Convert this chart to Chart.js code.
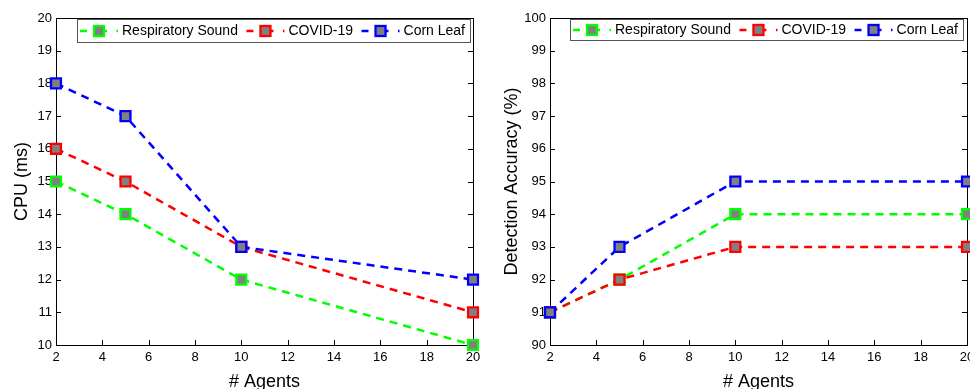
<!DOCTYPE html>
<html>
<head>
<meta charset="utf-8">
<script src="https://cdn.jsdelivr.net/npm/chart.js@4/dist/chart.umd.min.js"></script>
<style>
  html, body { margin: 0; padding: 0; background: #fff; overflow: hidden; width: 970px; height: 389px; position: relative; }
  #cpuChart { position: absolute; left: 0; top: 0; }
  #accChart { position: absolute; left: 490px; top: 0; }
</style>
</head>
<body>
<canvas id="cpuChart" width="490" height="400"></canvas>
<canvas id="accChart" width="500" height="400"></canvas>
<script>
// values
const agents = [2, 5, 10, 20];
const seriesNames = ['Respiratory Sound', 'COVID-19', 'Corn Leaf'];
const cpuRespiratory = [15, 14, 12, 10];
const cpuCovid = [16, 15, 13, 11];
const cpuCorn = [18, 17, 13, 12];
const accRespiratory = [91, 92, 94, 94];
const accCovid = [91, 92, 93, 93];
const accCorn = [91, 93, 95, 95];
const xTicks = [2, 4, 6, 8, 10, 12, 14, 16, 18, 20];
const cpuTicks = [10, 11, 12, 13, 14, 15, 16, 17, 18, 19, 20];
const accTicks = [90, 91, 92, 93, 94, 95, 96, 97, 98, 99, 100];

const colors = ['#00ff00', '#ff0000', '#0000ff'];
const FONT = '"Liberation Sans", Arial, sans-serif';
const DASH = [8, 6];

function makeDataset(i, values) {
  return {
    label: seriesNames[i],
    data: agents.map((a, k) => ({ x: a, y: values[k] })),
    borderColor: colors[i],
    borderWidth: 2.5,
    borderDash: DASH,
    pointStyle: 'rect',
    pointRadius: 7,
    pointHoverRadius: 7,
    pointBorderWidth: 2.3,
    pointBackgroundColor: '#808080',
    pointBorderColor: colors[i],
    fill: false,
    clip: false,
    order: 2 - i
  };
}

// box around the plot, ticks pointing inward
const boxTicks = {
  id: 'boxTicks',
  beforeDatasetsDraw(chart) {
    const { ctx, chartArea: a, scales } = chart;
    const len = 5;
    ctx.save();
    ctx.strokeStyle = '#000';
    ctx.lineWidth = 1;
    ctx.beginPath();
    scales.x.ticks.forEach(t => {
      const px = Math.round(scales.x.getPixelForValue(t.value)) + 0.5;
      ctx.moveTo(px, a.bottom); ctx.lineTo(px, a.bottom - len);
      ctx.moveTo(px, a.top); ctx.lineTo(px, a.top + len);
    });
    scales.y.ticks.forEach(t => {
      const py = Math.round(scales.y.getPixelForValue(t.value)) + 0.5;
      ctx.moveTo(a.left, py); ctx.lineTo(a.left + len, py);
      ctx.moveTo(a.right, py); ctx.lineTo(a.right - len, py);
    });
    ctx.stroke();
    ctx.strokeRect(Math.round(a.left) + 0.5, Math.round(a.top) + 0.5,
      Math.round(a.right - a.left), Math.round(a.bottom - a.top));
    ctx.restore();
  }
};

// legend box in top right of the plot area
const boxLegend = {
  id: 'boxLegend',
  afterDraw(chart, args, opts) {
    const { ctx, chartArea: a } = chart;
    ctx.save();
    ctx.font = '14px ' + FONT;
    const widths = chart.data.datasets.map(d => ctx.measureText(d.label).width);
    const lineW = 38, textGap = 4, sep = 8.5;
    let total = 3;
    widths.forEach((w, i) => { total += lineW + textGap + w + (i < widths.length - 1 ? sep : 5); });
    const right = a.right - opts.rightGap;
    const left = right - total;
    const top = a.top + 1, h = opts.height;
    ctx.fillStyle = '#fff';
    ctx.fillRect(left, top, total, h);
    ctx.strokeStyle = '#555';
    ctx.lineWidth = 1;
    ctx.strokeRect(Math.round(left) + 0.5, Math.round(top) + 0.5, Math.round(total), h);
    const cy = top + h / 2 + 0.5;
    let x = left + 3;
    chart.data.datasets.forEach((d, i) => {
      ctx.strokeStyle = d.borderColor;
      ctx.lineWidth = 2.5;
      ctx.setLineDash([7, 12, 8, 9.5, 1.5, 100]);
      ctx.beginPath();
      ctx.moveTo(x, cy); ctx.lineTo(x + lineW, cy);
      ctx.stroke();
      ctx.setLineDash([]);
      const s = 10;
      ctx.fillStyle = '#808080';
      ctx.fillRect(x + 19 - s / 2, cy - s / 2, s, s);
      ctx.lineWidth = 2.3;
      ctx.strokeRect(x + 19 - s / 2, cy - s / 2, s, s);
      ctx.fillStyle = '#000';
      ctx.textBaseline = 'middle';
      ctx.textAlign = 'left';
      ctx.fillText(d.label, x + lineW + textGap, cy);
      x += lineW + textGap + widths[i] + sep;
    });
    ctx.restore();
  }
};

function makeChart(id, sets, yTicks, yTitle, yWidth, padRight, legendGap, legendH) {
  return new Chart(document.getElementById(id), {
    type: 'line',
    data: { datasets: sets },
    options: {
      responsive: false,
      animation: false,
      layout: { padding: { top: 18, right: padRight, bottom: 0, left: 0 } },
      plugins: {
        legend: { display: false },
        tooltip: { enabled: false },
        boxLegend: { rightGap: legendGap, height: legendH }
      },
      scales: {
        x: {
          type: 'linear',
          min: xTicks[0],
          max: xTicks[xTicks.length - 1],
          afterBuildTicks(s) { s.ticks = xTicks.map(v => ({ value: v })); },
          afterFit(s) { s.height = 55; },
          grid: { display: false, drawTicks: false },
          border: { display: false },
          ticks: { color: '#000', font: { family: FONT, size: 13 }, padding: 5, maxRotation: 0 },
          title: { display: true, text: '# Agents', color: '#000', font: { family: FONT, size: 18 }, padding: { top: 0, bottom: 7 } }
        },
        y: {
          type: 'linear',
          min: yTicks[0],
          max: yTicks[yTicks.length - 1],
          afterBuildTicks(s) { s.ticks = yTicks.map(v => ({ value: v })); },
          afterFit(s) { s.width = yWidth; },
          grid: { display: false, drawTicks: false },
          border: { display: false },
          ticks: { color: '#000', font: { family: FONT, size: 13 }, padding: 4 },
          title: { display: true, text: yTitle, color: '#000', font: { family: FONT, size: 18 }, padding: { top: 11, bottom: 0 } }
        }
      }
    },
    plugins: [boxTicks, boxLegend]
  });
}

makeChart('cpuChart',
  [makeDataset(0, cpuRespiratory), makeDataset(1, cpuCovid), makeDataset(2, cpuCorn)],
  cpuTicks, 'CPU (ms)', 56, 17, 3, 23);
makeChart('accChart',
  [makeDataset(0, accRespiratory), makeDataset(1, accCovid), makeDataset(2, accCorn)],
  accTicks, 'Detection Accuracy (%)', 60, 23, 4, 21);
</script>
</body>
</html>
